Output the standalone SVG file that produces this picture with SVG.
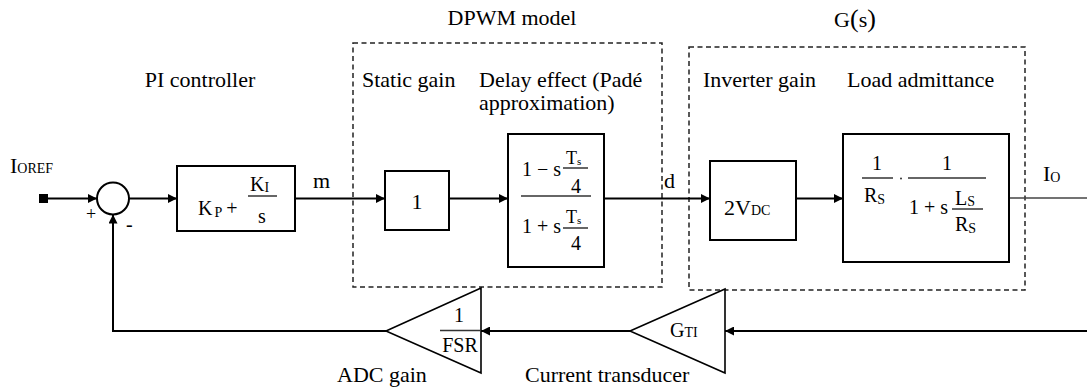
<svg xmlns="http://www.w3.org/2000/svg" width="1087" height="388" viewBox="0 0 1087 388" font-family="'Liberation Serif', 'DejaVu Serif', serif">
  <style>
    text { font-family: 'Liberation Serif', 'DejaVu Serif', serif; fill: #000; }
    .lbl { font-size: 22px; }
    .eq { font-size: 20px; }
    .sub { font-size: 14px; }
    .box { fill: #fff; stroke: #000; stroke-width: 2; }
    .grp { fill: none; stroke: #222; stroke-width: 1.5; stroke-dasharray: 5 3.5; }
    .wire { fill: none; stroke: #000; stroke-width: 2; }
    .frac { stroke: #333; stroke-width: 1.5; }
    .tri { fill: #fff; stroke: #000; stroke-width: 1.6; }
  </style>
  <defs>
    <marker id="arrow" viewBox="0 0 10 10" refX="10" refY="5" markerWidth="5" markerHeight="4.5" markerUnits="strokeWidth" orient="auto">
      <path d="M0,0 L10,5 L0,10 z" fill="#000"/>
    </marker>
  </defs>

  <rect width="1087" height="388" fill="#fff"/>

  <!-- dashed sub-system frames -->
  <g id="dpwm-frame">
    <rect class="grp" x="353" y="43" width="309" height="244"/>
    <text class="lbl" x="512" y="25" text-anchor="middle">DPWM model</text>
  </g>
  <g id="plant-frame">
    <rect class="grp" x="689" y="47" width="336" height="243"/>
    <text x="855" y="27" text-anchor="middle"><tspan class="lbl">G</tspan><tspan style="font-size:26px">(</tspan><tspan class="lbl">s</tspan><tspan style="font-size:26px">)</tspan></text>
  </g>

  <!-- connectors -->
  <g id="connectors">
    <line class="wire" x1="48" y1="198.5" x2="97" y2="198.5" marker-end="url(#arrow)"/>
    <line class="wire" x1="129" y1="198.5" x2="177" y2="198.5" marker-end="url(#arrow)"/>
    <line class="wire" x1="295" y1="198.5" x2="385" y2="198.5" marker-end="url(#arrow)"/>
    <line class="wire" x1="449" y1="198.5" x2="508" y2="198.5" marker-end="url(#arrow)"/>
    <line class="wire" x1="604" y1="198.5" x2="710" y2="198.5" marker-end="url(#arrow)"/>
    <line class="wire" x1="796" y1="198.5" x2="843" y2="198.5" marker-end="url(#arrow)"/>
    <line x1="1009" y1="198" x2="1087" y2="198" stroke="#444" stroke-width="1.6"/>
    <line class="wire" x1="1087" y1="331" x2="725" y2="331" marker-end="url(#arrow)"/>
    <line class="wire" x1="630" y1="331" x2="481" y2="331" marker-end="url(#arrow)"/>
    <polyline class="wire" points="386,331 113,331 113,214.5" marker-end="url(#arrow)"/>
    <text class="lbl" x="313" y="188">m</text>
    <text class="lbl" x="664" y="188">d</text>
    <text x="1043" y="181"><tspan class="lbl">I</tspan><tspan class="sub" dy="1">O</tspan></text>
  </g>

  <g id="ref-input">
    <rect x="39" y="194" width="9" height="9" fill="#000"/>
    <text x="10" y="173"><tspan class="lbl">I</tspan><tspan class="sub">OREF</tspan></text>
  </g>

  <g id="summing-junction">
    <circle cx="113" cy="198.5" r="16" fill="#fff" stroke="#000" stroke-width="2"/>
    <text x="86" y="220" style="font-size:18px">+</text>
    <text x="126" y="231" style="font-size:20px">-</text>
  </g>

  <g id="pi-controller">
    <text class="lbl" x="200" y="87" text-anchor="middle">PI controller</text>
    <rect class="box" x="177" y="166" width="118" height="65"/>
    <text x="198" y="215"><tspan class="eq">K</tspan><tspan class="sub" dx="2" dy="2">P</tspan><tspan class="eq" dx="4" dy="-2">+</tspan></text>
    <line class="frac" x1="248" y1="196" x2="277" y2="196"/>
    <text x="250" y="191"><tspan class="eq">K</tspan><tspan class="sub" dy="1">I</tspan></text>
    <text class="eq" x="262" y="223" text-anchor="middle">s</text>
  </g>

  <g id="static-gain">
    <text class="lbl" x="362" y="87">Static gain</text>
    <rect class="box" x="385" y="171" width="64" height="59"/>
    <text class="lbl" x="417" y="209" text-anchor="middle">1</text>
  </g>

  <g id="delay-effect">
    <text class="lbl" x="479" y="87">Delay effect (Padé</text>
    <text class="lbl" x="479" y="110">approximation)</text>
    <rect class="box" x="508" y="134" width="96" height="133"/>
    <!-- numerator: 1 - s Ts/4 -->
    <text class="eq" x="522" y="176">1 − s</text>
    <line class="frac" x1="563" y1="168" x2="588" y2="168"/>
    <text x="566" y="164"><tspan style="font-size:18px">T</tspan><tspan style="font-size:11px" dy="1">s</tspan></text>
    <text class="eq" x="576" y="193" text-anchor="middle">4</text>
    <line class="frac" x1="521" y1="196" x2="591" y2="196"/>
    <!-- denominator: 1 + s Ts/4 -->
    <text class="eq" x="522" y="233">1 + s</text>
    <line class="frac" x1="563" y1="228" x2="588" y2="228"/>
    <text x="566" y="223"><tspan style="font-size:18px">T</tspan><tspan style="font-size:11px" dy="1">s</tspan></text>
    <text class="eq" x="576" y="250" text-anchor="middle">4</text>
  </g>

  <g id="inverter-gain">
    <text class="lbl" x="703" y="87">Inverter gain</text>
    <rect class="box" x="710" y="161" width="86" height="79"/>
    <text x="724" y="215"><tspan class="lbl">2V</tspan><tspan class="sub">DC</tspan></text>
  </g>

  <g id="load-admittance">
    <text class="lbl" x="847" y="87">Load admittance</text>
    <rect class="box" x="843" y="134" width="166" height="128"/>
    <text class="eq" x="877" y="170" text-anchor="middle">1</text>
    <line class="frac" x1="862" y1="178" x2="893" y2="178"/>
    <text x="864" y="202"><tspan class="eq">R</tspan><tspan class="sub" dy="2">S</tspan></text>
    <circle cx="901" cy="178.5" r="1" fill="#333"/>
    <text class="eq" x="947" y="170" text-anchor="middle">1</text>
    <line class="frac" x1="908" y1="178" x2="986" y2="178"/>
    <text class="eq" x="909" y="214">1 + s</text>
    <line class="frac" x1="952" y1="209" x2="983" y2="209"/>
    <text x="955" y="205"><tspan class="eq">L</tspan><tspan class="sub" dy="1">S</tspan></text>
    <text x="955" y="231"><tspan class="eq">R</tspan><tspan class="sub" dy="2">S</tspan></text>
  </g>

  <g id="current-transducer">
    <polygon class="tri" points="725,289 725,373 630,331"/>
    <text x="670" y="337"><tspan class="eq">G</tspan><tspan class="sub">TI</tspan></text>
    <text class="lbl" x="525" y="382">Current transducer</text>
  </g>

  <g id="adc-gain">
    <polygon class="tri" points="481,288 481,373 386,331"/>
    <text class="eq" x="459" y="322" text-anchor="middle">1</text>
    <line class="frac" x1="440" y1="330.5" x2="481" y2="330.5"/>
    <text class="eq" x="460" y="352" text-anchor="middle">FSR</text>
    <text class="lbl" x="337" y="382">ADC gain</text>
  </g>
</svg>
